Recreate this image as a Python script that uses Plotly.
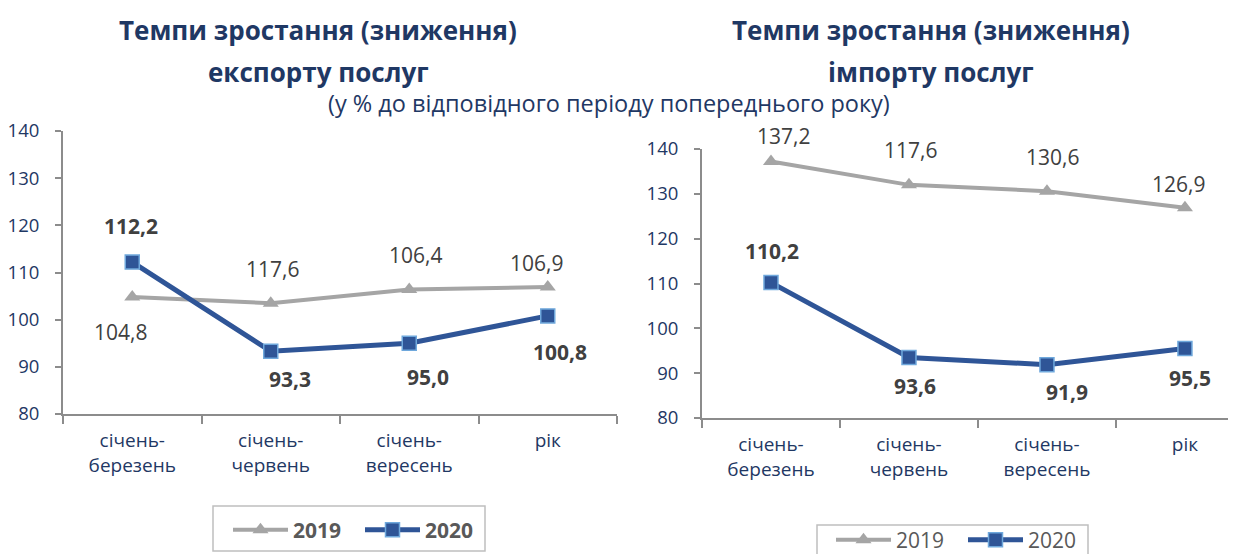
import plotly.graph_objects as go

categories = ["січень-<br>березень", "січень-<br>червень", "січень-<br>вересень", "рік"]

export_2019 = [104.8, 103.5, 106.4, 106.9]
export_2020 = [112.2, 93.3, 95.0, 100.8]
export_2019_labels = ["104,8", "117,6", "106,4", "106,9"]
export_2020_labels = ["112,2", "93,3", "95,0", "100,8"]

import_2019 = [137.2, 132.0, 130.6, 126.9]
import_2020 = [110.2, 93.5, 91.9, 95.5]
import_2019_labels = ["137,2", "117,6", "130,6", "126,9"]
import_2020_labels = ["110,2", "93,6", "91,9", "95,5"]

y_ticks = [80, 90, 100, 110, 120, 130, 140]

# label offsets (px) -- styling only
exp19_off = [(-12, -35), (2, 34), (6, 34), (-11, 24)]
exp20_off = [(-1, 36), (19, -28), (19, -34), (12, -36)]
imp19_off = [(13, 26), (2, 35), (6, 34), (-6, 24)]
imp20_off = [(1, 32), (6, -29), (20, -27), (5, -29)]

PAGE_OFF = 8  # default body margin of the html page
W, H = 1236 - PAGE_OFF, 554 - PAGE_OFF
FONT = "Open Sans"
NAVY = "#1F3864"
GREY_LINE = "#A5A5A5"
BLUE = "#2F5597"
BLUE_EDGE = "#6FA8DC"
LABEL = "#404040"
AXIS = "#8C8C8C"

def px(x):
    return (x - PAGE_OFF) / W

def py(y):
    return 1 - (y - PAGE_OFF) / H

fig = go.Figure()

def add_series(x_ax, y_ax, y19, y20, names, legend):
    fig.add_trace(go.Scatter(
        x=categories, y=y19, xaxis=x_ax, yaxis=y_ax, mode="lines+markers",
        name=names[0], legend=legend,
        line=dict(color=GREY_LINE, width=4),
        marker=dict(symbol="triangle-up", size=14, color=GREY_LINE),
    ))
    fig.add_trace(go.Scatter(
        x=categories, y=y20, xaxis=x_ax, yaxis=y_ax, mode="lines+markers",
        name=names[1], legend=legend,
        line=dict(color=BLUE, width=5),
        marker=dict(symbol="square", size=14, color=BLUE,
                    line=dict(color=BLUE_EDGE, width=1.5)),
    ))

add_series("x", "y", export_2019, export_2020, ["<b>2019</b>", "<b>2020</b>"], "legend")
add_series("x2", "y2", import_2019, import_2020, ["2019", "2020"], "legend2")

annotations = []

def add_labels(xref, yref, yvals, labels, offs, bold):
    for c, v, t, (dx, dy) in zip(categories, yvals, labels, offs):
        annotations.append(dict(
            x=c, y=v, xref=xref, yref=yref, text=("<b>%s</b>" % t) if bold else t,
            showarrow=False, xshift=dx, yshift=dy,
            font=dict(family=FONT, size=21, color=LABEL),
        ))

add_labels("x", "y", export_2019, export_2019_labels, exp19_off, False)
add_labels("x", "y", export_2020, export_2020_labels, exp20_off, True)
add_labels("x2", "y2", import_2019, import_2019_labels, imp19_off, False)
add_labels("x2", "y2", import_2020, import_2020_labels, imp20_off, True)

# titles
for txt, x, y in [
    ("<b>Темпи зростання (зниження)</b>", 318, 30),
    ("<b>експорту послуг</b>", 318, 72),
    ("<b>Темпи зростання (зниження)</b>", 931, 30),
    ("<b>імпорту послуг</b>", 931, 72),
]:
    annotations.append(dict(x=px(x), y=py(y), xref="paper", yref="paper", text=txt,
                            showarrow=False, xanchor="center", yanchor="middle",
                            font=dict(family=FONT, size=26, color=NAVY)))
annotations.append(dict(x=px(609), y=py(103), xref="paper", yref="paper",
                        text="(у % до відповідного періоду попереднього року)",
                        showarrow=False, xanchor="center", yanchor="middle",
                        font=dict(family=FONT, size=23.5, color=NAVY)))

fig.update_layout(annotations=annotations)

# legend boxes
shapes = [
    dict(type="rect", xref="paper", yref="paper", x0=px(213), x1=px(485), y0=py(551), y1=py(506),
         line=dict(color="#BFBFBF", width=1.5), fillcolor="rgba(0,0,0,0)"),
    dict(type="rect", xref="paper", yref="paper", x0=px(817), x1=px(1088), y0=py(566), y1=py(525),
         line=dict(color="#BFBFBF", width=1.5), fillcolor="rgba(0,0,0,0)"),
]
fig.update_layout(shapes=shapes)

xaxis_common = dict(
    type="category", showgrid=False, showline=True, linecolor=AXIS, linewidth=2,
    ticks="outside", tickson="boundaries", ticklen=8, tickcolor=AXIS, tickwidth=2,
    ticklabelstandoff=8,
    tickfont=dict(family=FONT, size=19, color=NAVY), zeroline=False, fixedrange=True,
)
yaxis_common = dict(
    showgrid=False, showline=True, linecolor=AXIS, linewidth=2, range=[80, 140],
    tickvals=y_ticks, ticks="outside", ticklen=6, tickcolor=AXIS, tickwidth=2,
    ticklabelstandoff=12,
    tickfont=dict(family=FONT, size=18.5, color=NAVY), zeroline=False,
)

legend_common = dict(orientation="h", xanchor="left", yanchor="middle",
                     bgcolor="rgba(0,0,0,0)", borderwidth=0, itemwidth=55, entrywidth=62)

fig.update_layout(
    width=W, height=H,
    margin=dict(l=0, r=0, t=0, b=0, autoexpand=False),
    paper_bgcolor="white", plot_bgcolor="white",
    showlegend=True,
    xaxis=dict(domain=[px(63), px(617)], range=[-0.5, 3.5], anchor="y", **xaxis_common),
    yaxis=dict(domain=[py(414), py(131)], anchor="x", **yaxis_common),
    xaxis2=dict(domain=[px(702), 1.0], range=[-0.5, 3.37], anchor="y2", **xaxis_common),
    yaxis2=dict(domain=[py(418), py(149)], anchor="x2", **yaxis_common),
    legend=dict(x=px(228), y=py(530), font=dict(family=FONT, size=21, color="#595959"),
                **legend_common),
    legend2=dict(x=px(831), y=py(540), font=dict(family=FONT, size=21, color="#595959"),
                 **legend_common),
)

fig.write_html("out.html")
